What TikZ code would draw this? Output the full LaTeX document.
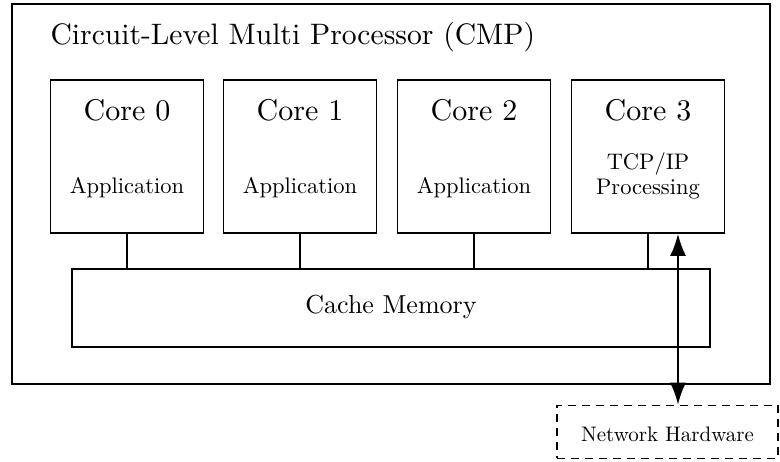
\documentclass[tikz,border=0pt]{standalone}
\usetikzlibrary{arrows.meta}
\begin{document}
\begin{tikzpicture}[x=1pt,y=-1pt,
  box/.style={draw,line width=1.6pt,rectangle,inner sep=0pt},
  corebox/.style={box,minimum width=153pt,minimum height=153pt},
  big/.style={scale=3.0,inner sep=0pt},
  mid/.style={scale=2.6,inner sep=0pt},
  small/.style={scale=2.25,inner sep=0pt,align=center},
  wire/.style={line width=1.6pt},
  arr/.style={line width=2.2pt,{Latex[length=22pt,width=16pt]}-{Latex[length=22pt,width=16pt]}}]
\useasboundingbox (0,0) rectangle (780,462);
\node[box,minimum width=758pt,minimum height=380pt] (cmp) at (391,194) {};
\node[scale=2.96,inner sep=0pt,anchor=west] (title) at (50,37) {Circuit-Level Multi Processor (CMP)};
\node[corebox] (core0) at (127,156.5) {};
\node[corebox] (core1) at (300,156.5) {};
\node[corebox] (core2) at (474,156.5) {};
\node[corebox] (core3) at (648,156.5) {};
\node[big] (t0) at (127,110) {Core 0};
\node[big] (t1) at (300,110) {Core 1};
\node[big] (t2) at (474,110) {Core 2};
\node[big] (t3) at (648,110) {Core 3};
\node[small] (a0) at (127,188) {Application};
\node[small] (a1) at (300,188) {Application};
\node[small] (a2) at (474,188) {Application};
\node[small] (a3) at (648,176) {TCP/IP\\[-1pt]Processing};
\node[box,minimum width=638pt,minimum height=78pt] (cache) at (391,308) {};
\node[mid] (ct) at (391,307) {Cache Memory};
\node[draw,line width=1.6pt,dash pattern=on 8pt off 6pt,rectangle,minimum width=221pt,minimum height=53pt,inner sep=0pt] (net) at (667.5,432) {};
\node[scale=2.1,inner sep=0pt] (nt) at (667.5,434) {Network Hardware};
\foreach \i in {0,1,2,3} \draw[wire] (core\i.south) -- (core\i.south |- cache.north);
\coordinate (ap) at ([xshift=30pt]core3.south);
\draw[arr] (ap) -- (ap |- net.north);
\end{tikzpicture}
\end{document}
